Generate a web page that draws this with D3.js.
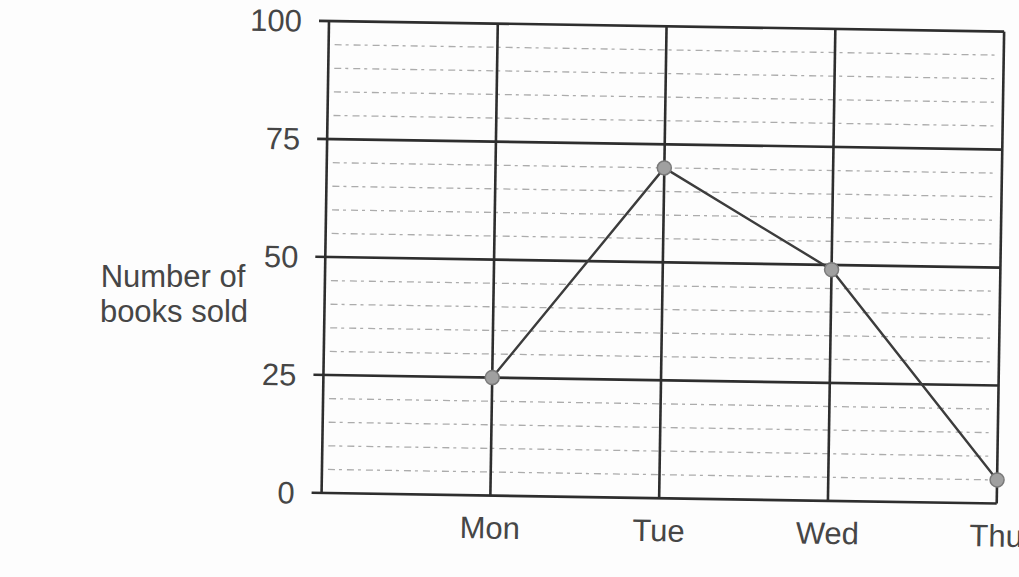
<!DOCTYPE html>
<html>
<head>
<meta charset="utf-8">
<script src="https://cdnjs.cloudflare.com/ajax/libs/d3/7.8.5/d3.min.js"></script>
<style>
  body { margin: 0; background: #fdfdfd; }
  svg { display: block; }
  text { font-family: "Liberation Sans", Arial, sans-serif; fill: #464646; }
</style>
</head>
<body>
<div id="chart"></div>
<script>
// data
let days = ["Mon", "Tue", "Wed", "Thu"];
let books = [25, 70, 49, 5];
let majorTicks = [0, 25, 50, 75, 100];
let minorTicks = [5, 10, 15, 20, 30, 35, 40, 45, 55, 60, 65, 70, 80, 85, 90, 95];

let width = 1019, height = 577;
let marginLeft = 329, marginTop = 21, plotH = 472, step = 168.8;

let svg = d3.select("#chart").append("svg")
    .attr("width", width)
    .attr("height", height);

// the scan is a little tilted
let g = svg.append("g")
    .attr("transform", "translate(" + marginLeft + "," + marginTop + ") rotate(0.9)");

let x = d3.scalePoint()
    .domain([""].concat(days))
    .range([0, step * days.length]);

let y = d3.scaleLinear()
    .domain([0, 100])
    .range([plotH, 0]);

let plotW = x("Thu");

// minor dashed lines
g.selectAll(".minor")
    .data(minorTicks)
    .enter().append("line")
    .attr("class", "minor")
    .attr("x1", 6).attr("x2", plotW - 6)
    .attr("y1", d => y(d)).attr("y2", d => y(d))
    .style("stroke", "#8a8a8a")
    .style("stroke-width", 1.3)
    .style("stroke-dasharray", "7,4,3,5")
    .style("opacity", 0.7);

// major horizontal lines
g.selectAll(".major")
    .data(majorTicks)
    .enter().append("line")
    .attr("class", "major")
    .attr("x1", -10).attr("x2", plotW)
    .attr("y1", d => y(d)).attr("y2", d => y(d))
    .style("stroke", "#2e2e2e")
    .style("stroke-width", 2.6);

// vertical lines
g.selectAll(".vline")
    .data([""].concat(days))
    .enter().append("line")
    .attr("class", "vline")
    .attr("x1", d => x(d)).attr("x2", d => x(d))
    .attr("y1", y(100)).attr("y2", y(0))
    .style("stroke", "#2e2e2e")
    .style("stroke-width", 2.6);

// y tick labels
g.selectAll(".ylab")
    .data(majorTicks)
    .enter().append("text")
    .attr("class", "ylab")
    .attr("x", -27)
    .attr("y", d => y(d) + 11)
    .attr("text-anchor", "end")
    .style("font-size", "31px")
    .text(d => d);

// x tick labels
g.selectAll(".xlab")
    .data(days)
    .enter().append("text")
    .attr("class", "xlab")
    .attr("x", d => x(d))
    .attr("y", plotH + 43)
    .attr("text-anchor", "middle")
    .style("font-size", "31px")
    .text(d => d);

// axis title
let title = svg.append("text")
    .attr("text-anchor", "middle")
    .style("font-size", "31px");
title.append("tspan").attr("x", 173).attr("y", 287).text("Number of");
title.append("tspan").attr("x", 174).attr("y", 322).text("books sold");

// the line
let line = d3.line()
    .x((d, i) => x(days[i]))
    .y(d => y(d));

g.append("path")
    .datum(books)
    .attr("d", line)
    .style("fill", "none")
    .style("stroke", "#3c3c3c")
    .style("stroke-width", 2.4);

g.selectAll(".dot")
    .data(books)
    .enter().append("circle")
    .attr("class", "dot")
    .attr("cx", (d, i) => x(days[i]))
    .attr("cy", d => y(d))
    .attr("r", 7)
    .style("fill", "#a0a0a0")
    .style("stroke", "#7a7a7a")
    .style("stroke-width", 1.5);
</script>
</body>
</html>
